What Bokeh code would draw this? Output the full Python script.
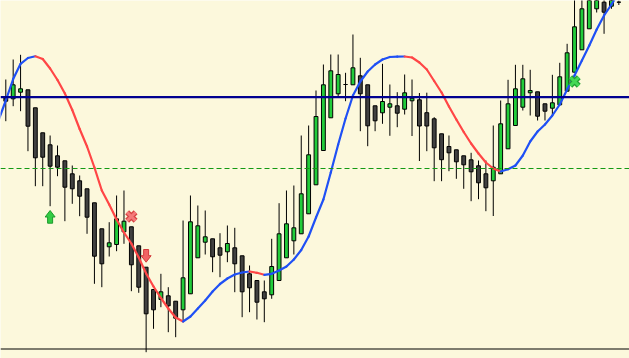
import numpy as np
from bokeh.plotting import figure
from bokeh.models import Range1d, Span
from bokeh.embed import file_html
from bokeh.resources import INLINE

# ---- data (price points) ----
opens = [260.7, 259.7, 266.3, 268.7, 250.7, 225.7, 213.7, 202.7, 197.7, 184.7,
         177.7, 169.7, 155.7, 129.7, 111.7, 114.0, 126.7, 131.7, 112.7, 91.3,
         69.0, 59.0, 62.7, 57.3, 48.7, 64.7, 100.7, 116.3, 119.7, 110.7,
         106.7, 110.7, 102.7, 84.7, 78.0, 66.7, 63.7, 78.0, 100.7, 117.7,
         124.7, 144.7, 173.7, 208.0, 240.7, 264.7, 274.0, 273.7, 282.7, 273.7,
         252.7, 245.7, 251.3, 252.7, 249.3, 257.7, 258.7, 245.8, 239.7, 224.7,
         212.0, 208.7, 202.7, 198.7, 192.7, 184.7, 177.7, 184.7, 209.7, 233.0,
         251.3, 265.7, 266.7, 254.7, 250.3, 253.7, 267.3, 286.3, 308.7, 329.7,
         349.7, 356.3, 352.3, 356.3]
highs = [279.0, 299.0, 303.7, 268.7, 250.7, 225.7, 223.0, 213.0, 197.7, 193.0,
         183.0, 169.7, 155.7, 129.7, 136.3, 163.0, 168.0, 131.7, 112.7, 91.3,
         69.0, 84.7, 71.3, 57.3, 138.0, 163.0, 153.0, 148.0, 119.7, 125.3,
         133.0, 130.7, 102.7, 93.0, 78.0, 78.0, 119.7, 155.3, 168.0, 173.0,
         223.0, 233.0, 268.0, 294.0, 304.0, 304.0, 285.7, 324.0, 300.7, 273.7,
         252.7, 294.7, 274.0, 266.3, 284.0, 279.0, 265.5, 265.8, 241.3, 224.7,
         223.0, 208.7, 202.7, 205.7, 198.0, 198.0, 233.0, 258.0, 278.7, 293.7,
         293.7, 288.7, 266.7, 254.7, 283.7, 295.7, 314.7, 368.0, 373.0, 378.0,
         378.0, 373.0, 368.0, 358.0]
lows = [237.3, 252.3, 247.3, 207.3, 172.3, 172.3, 152.3, 182.3, 137.3, 154.7,
        142.3, 124.7, 74.7, 71.3, 102.0, 107.3, 114.7, 67.3, 65.7, 6.3,
        29.7, 51.3, 26.3, 21.3, 38.0, 64.7, 100.7, 104.0, 86.3, 81.3,
        96.3, 66.3, 41.3, 46.3, 39.0, 36.3, 59.7, 78.0, 100.7, 104.0,
        124.7, 144.7, 173.7, 208.0, 240.7, 261.3, 257.3, 273.7, 227.3, 212.3,
        227.3, 234.7, 222.7, 231.3, 244.0, 222.5, 197.5, 207.3, 177.3, 177.3,
        187.3, 179.7, 169.7, 157.3, 159.3, 147.3, 142.5, 184.7, 209.7, 233.0,
        248.0, 243.0, 238.0, 238.0, 243.0, 253.7, 267.3, 286.3, 308.7, 329.7,
        346.0, 324.7, 349.7, 353.5]
closes = [257.3, 273.7, 269.7, 232.3, 200.7, 201.3, 192.3, 191.3, 171.3, 169.7,
          162.3, 141.3, 102.3, 94.7, 115.7, 139.7, 137.3, 93.7, 71.3, 44.7,
          48.7, 66.7, 52.7, 40.3, 80.7, 136.7, 132.7, 121.7, 101.7, 103.3,
          115.0, 94.7, 66.7, 70.7, 56.3, 59.7, 92.0, 124.7, 134.7, 130.7,
          164.7, 203.7, 242.0, 273.7, 287.7, 284.0, 274.0, 290.7, 264.7, 232.7,
          237.7, 257.0, 254.7, 245.3, 265.7, 260.3, 232.5, 232.5, 210.7, 198.8,
          205.7, 196.7, 193.7, 186.7, 175.7, 170.7, 191.3, 234.7, 254.7, 269.7,
          279.7, 268.0, 242.3, 247.3, 255.7, 281.7, 305.7, 331.7, 349.7, 363.0,
          370.0, 346.3, 366.0, 356.3]
# smoothed moving average, starting one bar before the first visible candle
ma = [238.0, 258.0, 279.5, 294.7, 300.5, 302.2, 299.5, 290.0, 278.5, 265.0,
      248.5, 229.5, 212.0, 191.0, 168.0, 154.0, 139.0, 126.0, 115.0, 101.0,
      85.0, 72.0, 60.5, 50.0, 41.0, 37.0, 42.0, 50.0, 58.0, 67.0,
      74.5, 80.0, 84.0, 86.0, 87.0, 85.7, 83.7, 84.7, 88.0, 92.0,
      99.0, 108.5, 122.0, 141.0, 159.0, 186.0, 214.0, 240.0, 263.0, 277.0,
      287.0, 294.0, 299.0, 301.5, 301.8, 302.0, 301.0, 296.0, 289.0, 277.5,
      266.0, 252.0, 239.0, 226.5, 215.0, 205.0, 196.0, 190.0, 187.0, 189.2,
      193.0, 203.0, 217.0, 227.0, 234.0, 243.0, 254.0, 269.0, 283.0, 298.0,
      313.0, 329.0, 343.0, 354.0, 366.0]
resistance_level = 261.3
signal_level = 190.0
support_level = 9.5
buy_arrow_bar, buy_arrow_price = [7], [148.0]
sell_arrow_bar, sell_arrow_price = [20], [96.3]
sell_cross_bar, sell_cross_price = [18], [142.0]
buy_cross_bar, buy_cross_price = [78], [277.0]

# ---- figure ----
W, H = 629, 358
bar_px = 7.386
first_px = 5.3
x0 = 1 - first_px / bar_px
x1 = x0 + W / bar_px

p = figure(width=W, height=H, output_backend="svg", toolbar_location=None,
           x_range=Range1d(x0, x1), y_range=Range1d(0, 358),
           min_border=0, min_border_left=0, min_border_right=0,
           min_border_top=0, min_border_bottom=0)
p.axis.visible = False
p.grid.visible = False
p.outline_line_color = None
BG = "#fcf8dc"
p.background_fill_color = BG
p.border_fill_color = BG

idx = np.arange(1, len(opens) + 1)
o = np.array(opens); c = np.array(closes)
top = np.maximum(o, c); bot = np.minimum(o, c)
fill = ["#22cc3a" if cc > oo else "#404040" for oo, cc in zip(o, c)]

p.segment(x0=idx, y0=lows, x1=idx, y1=highs, line_color="black", line_width=1)
p.vbar(x=idx, bottom=bot, top=top, width=0.52, fill_color=fill,
       line_color="black", line_width=1)

# moving average coloured by direction
mx = np.arange(0, len(ma))
m = np.array(ma)
seg_col = ["#1f50f5" if m[k + 1] >= m[k] else "#ff4646" for k in range(len(m) - 1)]
p.segment(x0=mx[:-1], y0=m[:-1], x1=mx[1:], y1=m[1:], line_color=seg_col,
          line_width=2.2, line_cap="round")

p.add_layout(Span(location=resistance_level, dimension="width", line_color="#000090", line_width=2.2))
p.add_layout(Span(location=signal_level, dimension="width", line_color="#139a13",
                  line_width=1, line_dash="5 3"))
p.add_layout(Span(location=support_level, dimension="width", line_color="black", line_width=1))

# arrows (shape template in pixels)
ux = np.array([0, 5, 2.5, 2.5, -2.5, -2.5, -5]) / bar_px
uy = np.array([0, -6.5, -6.5, -12.7, -12.7, -6.5, -6.5])
xs = [list(b + ux) for b in buy_arrow_bar]
ys = [list(v + uy) for v in buy_arrow_price]
p.patches(xs, ys, fill_color="#33cc44", line_color="#1d9a2c", line_width=1)
xs = [list(b + ux) for b in sell_arrow_bar]
ys = [list(v - uy) for v in sell_arrow_price]
p.patches(xs, ys, fill_color="#f26464", line_color="#d23a3a", line_width=1)

# crosses
p.scatter(sell_cross_bar, sell_cross_price, marker="x", size=12, line_color="#d84444", line_width=5.5)
p.scatter(sell_cross_bar, sell_cross_price, marker="x", size=12, line_color="#f47a7a", line_width=3)
p.scatter(buy_cross_bar, buy_cross_price, marker="x", size=12, line_color="#22a033", line_width=5.5)
p.scatter(buy_cross_bar, buy_cross_price, marker="x", size=12, line_color="#44d855", line_width=3)

open("out.html", "w").write(file_html(p, INLINE))
